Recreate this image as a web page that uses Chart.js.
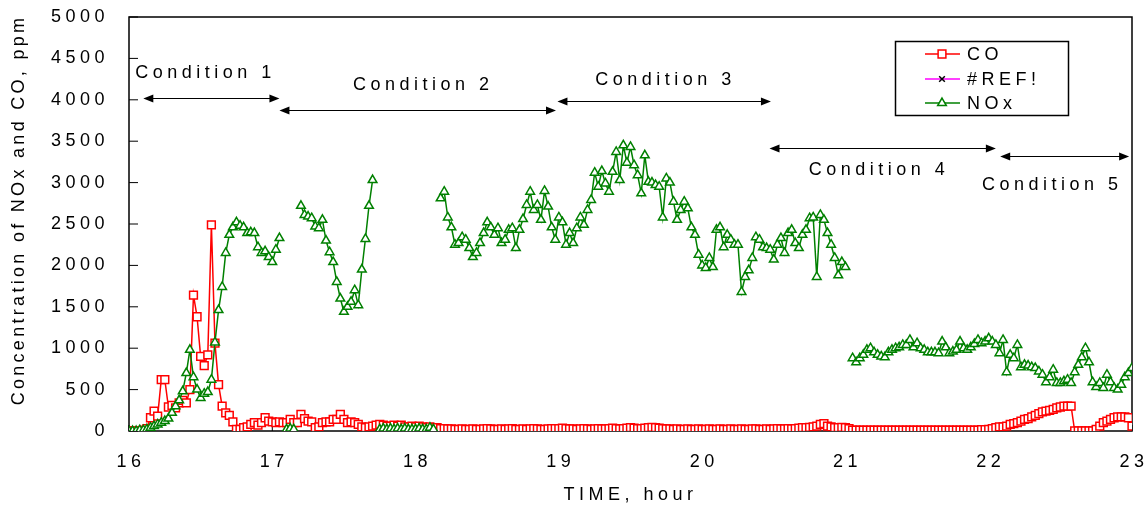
<!DOCTYPE html>
<html>
<head>
<meta charset="utf-8">
<script src="https://cdn.jsdelivr.net/npm/chart.js@4.4.0/dist/chart.umd.min.js"></script>
<style>
  html, body { margin: 0; padding: 0; background: #fff; }
  canvas { display: block; }
</style>
</head>
<body>
<canvas id="myChart" width="1146" height="507"></canvas>
<script>
// sampling clock: 16:00 start, one reading every 1.5 min
var startHour = 16;
var stepHour = 0.025;

// CO, ppm
var coPpm = [
  // 16h
  0, 0, 0, 0, 10, 30, 160, 240, 180, 620,
  620, 290, 310, 280, 340, 370, 340, 500, 1640, 1380,
  900, 790, 920, 2490, 1060, 560, 300, 220, 190, 110,
  20, 20, 40, 50, 80, 100, 70, 100, 160, 120,
  // 17h
  110, 100, 110, 100, 100, 140, 100, 100, 200, 150,
  120, 110, 40, 50, 100, 110, 110, 140, 140, 200,
  140, 100, 110, 100, 80, 50, 40, 50, 60, 70,
  80, 70, 60, 60, 70, 60, 70, 50, 50, 60,
  // 18h
  50, 60, 50, 40, 50, 40, 40, 30, 30, 25,
  25, 20, 20, 25, 20, 20, 25, 20, 20, 25,
  30, 25, 20, 20, 25, 20, 25, 30, 20, 20,
  25, 20, 25, 30, 25, 20, 20, 25, 30, 30,
  // 19h
  30, 35, 30, 25, 25, 20, 25, 30, 25, 20,
  25, 30, 25, 25, 30, 35, 30, 25, 30, 35,
  40, 35, 30, 30, 35, 40, 45, 40, 35, 30,
  25, 25, 20, 25, 20, 20, 25, 20, 20, 25,
  // 20h
  20, 20, 25, 20, 20, 25, 20, 20, 25, 20,
  20, 25, 20, 20, 25, 25, 20, 20, 25, 20,
  25, 30, 25, 25, 30, 25, 30, 35, 40, 40,
  45, 50, 60, 80, 90, 60, 50, 40, 40, 45,
  // 21h
  40, 30, 10, 10, 10, 10, 10, 10, 10, 10,
  10, 10, 10, 10, 10, 10, 10, 10, 10, 10,
  10, 10, 10, 10, 10, 10, 10, 10, 10, 10,
  10, 10, 10, 10, 10, 10, 10, 10, 15, 15,
  // 22h
  20, 30, 40, 50, 50, 60, 80, 90, 100, 120,
  140, 150, 170, 190, 210, 230, 240, 250, 260, 280,
  290, 300, 300, 300, 0, 0, 0, 0, 0, 0,
  20, 60, 100, 120, 140, 160, 170, 170, 170, 160,
  // 23h
  60
];

var refPpm = [0, 0];

// NOx, ppm (null = no reading)
var noxPpm = [
  // 16h
  0, 0, 0, 10, 10, 20, 40, 60, 80, 100,
  120, 150, 220, 300, 370, 480, 700, 980, 650, 500,
  400, 450, 470, 620, 1070, 1460, 1740, 2150, 2370, 2460,
  2520, 2480, 2460, 2390, 2400, 2390, 2220, 2150, 2170, 2100,
  // 17h
  2040, 2190, 2330, null, 20, 30, 20, null, 2720, 2610,
  2590, 2570, 2470, 2450, 2550, 2300, 2160, 2040, 1800, 1600,
  1440, 1500, 1560, 1700, 1520, 1950, 2320, 2720, 3030, null,
  20, 30, 20, 30, 20, 30, 20, 30, 20, 20,
  // 18h
  20, 30, 20, 20, 40, 20, null, 2810, 2890, 2580,
  2460, 2250, 2270, 2340, 2310, 2210, 2100, 2150, 2270, 2390,
  2520, 2460, 2370, 2450, 2270, 2310, 2430, 2450, 2210, 2430,
  2560, 2730, 2890, 2670, 2730, 2550, 2900, 2710, 2460, 2310,
  // 19h
  2580, 2520, 2250, 2390, 2270, 2450, 2580, 2490, 2670, 2790,
  3120, 2950, 3140, 2990, 2890, 3130, 3370, 3030, 3450, 3240,
  3430, 3210, 3090, 2870, 3330, 3010, 3000, 2970, 2950, 2580,
  3050, 3000, 2770, 2550, 2670, 2770, 2690, 2460, 2370, 2130,
  // 20h
  2000, 1970, 2090, 1980, 2430, 2460, 2220, 2370, 2310, 2250,
  2250, 1680, 1860, 1940, 2090, 2340, 2310, 2220, 2210, 2190,
  2070, 2250, 2330, 2150, 2390, 2430, 2270, 2210, 2370, 2430,
  2570, 2580, 1860, 2610, 2550, 2390, 2250, 2090, 1880, 2040,
  // 21h
  1980, null, 880, 830, 880, 920, 980, 1000, 950, 920,
  900, 890, 950, 980, 1000, 1010, 1040, 1040, 1100, 1010,
  1060, 1000, 980, 950, 950, 950, 940, 1080, 1010, 940,
  960, 980, 1080, 1000, 980, 1010, 1050, 1100, 1060, 1080,
  // 22h
  1120, 1080, 1040, 940, 1100, 710, 920, 880, 1040, 770,
  800, 790, 770, 760, 720, 680, 590, 650, 740, 580,
  580, 600, 620, 580, 710, 800, 890, 1000, 830, 590,
  530, 580, 520, 680, 590, 520, 500, 560, 650, 700,
  // 23h
  760
];

// 試験条件の区間
var conditionLabels = ['Condition 1', 'Condition 2', 'Condition 3', 'Condition 4', 'Condition 5'];
var conditionFrom = [16.10, 17.05, 18.99, 20.47, 22.08];
var conditionTo = [17.05, 18.98, 20.48, 22.05, 22.98];
var conditionArrowPpm = [4020, 3880, 3985, 3420, 3320];
var conditionTextHour = [16.52, 18.04, 19.73, 21.22, 22.43];
var conditionTextPpm = [4320, 4180, 4240, 3150, 2970];

var yTitle = 'Concentration of NOx and CO, ppm';

var FONT = '"Liberation Sans", Arial, sans-serif';
var SPACING = '4.5px';

function toPoints(values) {
  return values.map(function(v, i) {
    return { x: startHour + i * stepHour, y: v };
  });
}

// tick label overflow should not shrink the plot
function noPad(scale) {
  scale.paddingTop = 0;
  scale.paddingBottom = 0;
  scale.paddingLeft = 0;
  scale.paddingRight = 0;
}

var extras = {
  id: 'extras',
  beforeUpdate: function(chart) { chart.ctx.letterSpacing = SPACING; },
  beforeDraw: function(chart) { chart.ctx.letterSpacing = SPACING; },
  beforeDatasetsDraw: function(chart) {
    var ctx = chart.ctx, a = chart.chartArea;
    var xs = chart.scales.x, ys = chart.scales.y;
    ctx.save();
    ctx.strokeStyle = '#000';
    ctx.lineWidth = 1.5;
    ctx.strokeRect(a.left, a.top, a.right - a.left, a.bottom - a.top);
    // ticks point inward
    ctx.lineWidth = 1;
    ctx.beginPath();
    ys.ticks.forEach(function(t) {
      var py = ys.getPixelForValue(t.value);
      ctx.moveTo(a.left, py);
      ctx.lineTo(a.left + 9, py);
    });
    xs.ticks.forEach(function(t) {
      var px = xs.getPixelForValue(t.value);
      ctx.moveTo(px, a.bottom);
      ctx.lineTo(px, a.bottom - 6);
    });
    ctx.stroke();
    ctx.restore();
  },
  afterDraw: function(chart) {
    var ctx = chart.ctx;
    var xs = chart.scales.x, ys = chart.scales.y;
    ctx.save();
    ctx.font = '18px ' + FONT;
    ctx.fillStyle = '#000';
    ctx.strokeStyle = '#000';
    ctx.lineWidth = 1;
    ctx.textBaseline = 'middle';
    ctx.textAlign = 'center';

    // y title, a bit tighter than the other text
    ctx.save();
    ctx.letterSpacing = '3.3px';
    ctx.translate(19, 210);
    ctx.rotate(-Math.PI / 2);
    ctx.fillText(yTitle, 0, 0);
    ctx.restore();

    ctx.letterSpacing = SPACING;

    function head(x, y, dir) {
      ctx.beginPath();
      ctx.moveTo(x, y);
      ctx.lineTo(x + dir * 10, y - 4);
      ctx.lineTo(x + dir * 10, y + 4);
      ctx.closePath();
      ctx.fill();
    }

    conditionLabels.forEach(function(label, i) {
      var x1 = xs.getPixelForValue(conditionFrom[i]);
      var x2 = xs.getPixelForValue(conditionTo[i]);
      var y = Math.round(ys.getPixelForValue(conditionArrowPpm[i])) + 0.5;
      ctx.beginPath();
      ctx.moveTo(x1 + 5, y);
      ctx.lineTo(x2 - 5, y);
      ctx.stroke();
      head(x1, y, 1);
      head(x2, y, -1);
      ctx.fillText(label, xs.getPixelForValue(conditionTextHour[i]) + 2,
        ys.getPixelForValue(conditionTextPpm[i]));
    });

    // legend box
    var bx = 895.5, by = 41.5, bw = 173, bh = 74;
    ctx.fillStyle = '#fff';
    ctx.fillRect(bx, by, bw, bh);
    ctx.lineWidth = 1.5;
    ctx.strokeRect(bx, by, bw, bh);
    ctx.textAlign = 'left';
    var rows = [54, 79, 103];
    chart.data.datasets.forEach(function(ds, i) {
      var y = rows[i];
      ctx.strokeStyle = ds.borderColor;
      ctx.lineWidth = 1.5;
      ctx.beginPath();
      ctx.moveTo(925, y);
      ctx.lineTo(960, y);
      ctx.stroke();
      ctx.fillStyle = ds.pointBackgroundColor;
      ctx.strokeStyle = ds.pointBorderColor;
      ctx.lineWidth = ds.pointBorderWidth;
      Chart.helpers.drawPoint(ctx, {
        pointStyle: ds.pointStyle, radius: ds.pointRadius, rotation: 0,
        borderWidth: ds.pointBorderWidth
      }, 942, y);
      ctx.fillStyle = '#000';
      ctx.fillText(ds.label, 967, y + 1);
    });
    ctx.restore();
  }
};

var ctx = document.getElementById('myChart').getContext('2d');
var myChart = new Chart(ctx, {
  type: 'line',
  data: {
    datasets: [{
      label: 'CO',
      data: toPoints(coPpm),
      borderColor: '#ff0000',
      borderWidth: 1.5,
      pointStyle: 'rect',
      pointRadius: 5.5,
      pointBorderWidth: 1.5,
      pointBorderColor: '#ff0000',
      pointBackgroundColor: '#ffffff',
      order: 3
    }, {
      label: '#REF!',
      data: toPoints(refPpm),
      borderColor: '#ff00ff',
      borderWidth: 1.5,
      pointStyle: 'crossRot',
      pointRadius: 4,
      pointBorderWidth: 1.5,
      pointBorderColor: '#000000',
      pointBackgroundColor: '#000000',
      order: 2
    }, {
      label: 'NOx',
      data: toPoints(noxPpm),
      borderColor: '#008000',
      borderWidth: 1.5,
      pointStyle: 'triangle',
      pointRadius: 5,
      pointBorderWidth: 1.5,
      pointBorderColor: '#008000',
      pointBackgroundColor: '#ffffff',
      order: 1
    }]
  },
  options: {
    responsive: false,
    animation: false,
    spanGaps: false,
    layout: { padding: { top: 17, right: 14, left: 0, bottom: 0 } },
    plugins: {
      legend: { display: false },
      tooltip: { enabled: false }
    },
    scales: {
      x: {
        type: 'linear',
        min: 16,
        max: 23,
        grid: { display: false, drawTicks: false },
        border: { display: false },
        ticks: {
          stepSize: 1,
          padding: 20,
          labelOffset: 2,
          color: '#000',
          font: { family: FONT, size: 18 },
          callback: function(v) { return String(v); }
        },
        title: {
          display: true,
          text: 'TIME, hour',
          color: '#000',
          font: { family: FONT, size: 18 },
          padding: { top: 0, bottom: 1 }
        },
        afterFit: function(scale) {
          scale.height = 76;
          noPad(scale);
        }
      },
      y: {
        min: 0,
        max: 5000,
        grid: { display: false, drawTicks: false },
        border: { display: false },
        ticks: {
          stepSize: 500,
          padding: 20,
          color: '#000',
          font: { family: FONT, size: 18 },
          callback: function(v) { return String(v); }
        },
        afterFit: function(scale) {
          scale.width = 129;
          noPad(scale);
        }
      }
    }
  },
  plugins: [extras]
});
</script>
</body>
</html>
